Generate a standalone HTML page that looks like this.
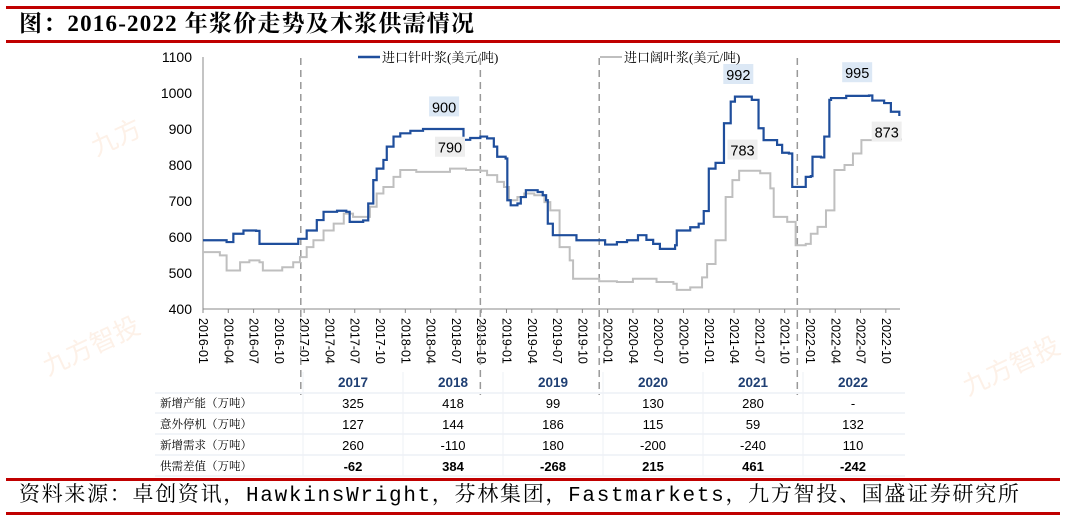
<!DOCTYPE html>
<html><head><meta charset="utf-8"><style>
body{margin:0;width:1065px;height:519px;background:#fff;overflow:hidden;position:relative;font-family:"Liberation Sans","Noto Sans CJK SC",sans-serif}
.rl{position:absolute;left:6px;width:1054px;height:3px;background:#c00000}
.ttl{position:absolute;left:19px;font-family:"Liberation Serif","Noto Serif CJK SC",serif;color:#000;white-space:nowrap}
</style></head><body>
<div class="rl" style="top:6px"></div>
<div class="ttl" style="top:9px;font-size:23px;line-height:30px;letter-spacing:1.2px;font-weight:bold">图：2016-2022 年浆价走势及木浆供需情况</div>
<div class="rl" style="top:40px"></div>
<div class="rl" style="top:478px"></div>
<div class="ttl" style="top:483px;font-size:21px;line-height:28px;letter-spacing:1.7px;font-family:'Liberation Mono','Noto Serif CJK SC',monospace">资料来源：卓创资讯，HawkinsWright，芬林集团，Fastmarkets，九方智投、国盛证券研究所</div>
<div class="rl" style="top:512px"></div>
<svg id="chart" width="1065" height="519" style="position:absolute;left:0;top:0">
<text x="95" y="150" font-size="26" fill="#fdf1e8" transform="rotate(-25 110 150)">九方</text>
<text x="40" y="360" font-size="26" fill="#fdf1e8" transform="rotate(-25 80 350)">九方智投</text>
<text x="960" y="380" font-size="26" fill="#fdf1e8" transform="rotate(-25 1000 370)">九方智投</text>
</svg>
<script>
const yTicks=[400,500,600,700,800,900,1000,1100];
const xLabels=["2016-01","2016-04","2016-07","2016-10","2017-01","2017-04","2017-07","2017-10","2018-01","2018-04","2018-07","2018-10","2019-01","2019-04","2019-07","2019-10","2020-01","2020-04","2020-07","2020-10","2021-01","2021-04","2021-07","2021-10","2022-01","2022-04","2022-07","2022-10"];
const dividers=[11.6,32.9,47,70.5];
const softMonths=[0,2.8,3.6,4.8,6.3,6.7,10.7,11.3,12.3,13.5,14.3,15.9,17.0,17.4,19.0,19.6,20.2,20.6,21.4,21.8,22.6,23.4,24.6,26.1,30.5,30.9,31.7,32.9,33.7,34.5,34.9,35.9,36.1,36.5,37.3,37.7,38.3,39.7,40.3,40.7,40.9,41.5,43.1,44.3,46.7,47.7,49.1,50.3,51.6,52.6,53.4,54.2,56.0,56.2,57.8,58.8,59.4,60.0,60.8,61.8,62.6,63.1,64.1,65.1,65.9,66.5,68.1,68.7,69.5,69.9,70.9,71.5,72.1,72.3,73.3,73.7,74.3,74.5,76.3,79.0,79.4,80.8,81.6,82.6];
const softValues=[591,586,609,618,617,581,581,595,618,647,670,673,670,642,646,693,758,790,814,851,879,888,895,900,900,870,875,879,874,851,823,818,702,688,693,711,730,725,716,702,637,605,605,591,591,579,586,591,605,592,581,567,577,618,627,637,672,790,806,916,976,990,990,981,902,869,856,834,832,739,739,767,769,823,821,879,981,986,992,993,979,972,948,936];
const hardMonths=[0,2.0,2.8,3.6,4.4,5.5,6.7,7.1,8.6,9.4,10.7,11.5,12.3,13.1,14.3,15.5,16.7,17.8,19.2,19.8,20.6,21.4,22.6,23.4,25.3,27.3,29.3,31.2,32.9,33.7,34.9,35.7,36.3,37.3,38.1,39.3,40.5,41.2,42.3,43.5,43.9,47.0,49.1,51.0,53.8,55.8,56.2,57.8,59.2,59.8,60.8,62.0,62.8,63.6,66.1,67.3,67.7,69.3,70.1,70.3,71.5,72.1,72.9,73.9,74.9,76.1,77.1,78.1,80.8,82.8];
const hardValues=[558,549,507,507,530,535,530,507,507,516,530,544,572,591,618,637,665,656,656,684,721,739,767,786,781,781,790,786,784,772,753,739,702,711,721,716,697,674,572,535,484,477,475,484,475,470,453,460,488,525,591,711,758,784,777,735,656,642,642,577,581,609,628,674,786,800,832,869,871,869];
const calloutLabels=["900","790","992","783","995","873"];
const calloutMonths=[28.6,29.3,63.5,64,77.6,81.1];
const calloutValues=[960,848,1050,840,1055,890];
const calloutSeries=[0,1,0,1,0,1];
const tableYears=["2017","2018","2019","2020","2021","2022"];
const tableRows=["新增产能（万吨）","意外停机（万吨）","新增需求（万吨）","供需差值（万吨）"];
const rowCapacity=["325","418","99","130","280","-"];
const rowOutage=["127","144","186","115","59","132"];
const rowDemand=["260","-110","180","-200","-240","110"];
const rowGap=["-62","384","-268","215","461","-242"];

const NS="http://www.w3.org/2000/svg";
const svg=document.getElementById('chart');
const X0=203,XW=8.43,Y0=309,YK=0.36;
const xs=m=>X0+m*XW, ys=v=>Y0-(v-400)*YK;
function mk(t,a,p){const e=document.createElementNS(NS,t);for(const k in a)e.setAttribute(k,a[k]);(p||svg).appendChild(e);return e;}

let ax=mk('line',{x1:X0,y1:ys(1100),x2:X0,y2:Y0,stroke:'#888','stroke-width':1});


let bx=mk('line',{x1:X0,y1:Y0,x2:900,y2:Y0,stroke:'#888','stroke-width':1});


yTicks.forEach(v=>{
  const t=mk('text',{x:192,y:ys(v)+5,'text-anchor':'end','font-size':14,fill:'#000'});
  t.textContent=v;
  
  
});
xLabels.forEach((l,i)=>{
  const x=xs(i*3);
  const tk=mk('line',{x1:x,y1:Y0,x2:x,y2:Y0+4,stroke:'#888'});
  
  
  const t=mk('text',{x:x-4,y:318,'font-size':12.5,fill:'#000',transform:`rotate(90 ${x-4} 318)`});
  t.textContent=l;
  
  
});
dividers.forEach(m=>{
  const d=mk('line',{x1:xs(m),y1:58,x2:xs(m),y2:395,stroke:'#999','stroke-width':1.5,'stroke-dasharray':'7,5'});
  
  
});
function stepPath(ms,vs){let d=`M${xs(ms[0])},${ys(vs[0])}`;for(let i=1;i<ms.length;i++){d+=`H${xs(ms[i])}V${ys(vs[i])}`;}return d;}
const hp=mk('path',{d:stepPath(hardMonths,hardValues),fill:'none',stroke:'#bfbfbf','stroke-width':2});


const sp=mk('path',{d:stepPath(softMonths,softValues),fill:'none',stroke:'#1f4e9c','stroke-width':2.2});


calloutLabels.forEach((l,i)=>{
  const cx=xs(calloutMonths[i]),cy=ys(calloutValues[i]);
  const r=mk('rect',{x:cx-15,y:cy-11,width:30,height:20,fill:calloutSeries[i]?'#eeeeee':'#dce8f5'});
  
  
  const t=mk('text',{x:cx,y:cy+5,'text-anchor':'middle','font-size':14.5,fill:'#000'});
  t.textContent=l;
  
  
});
const lg1=mk('line',{x1:358,y1:57,x2:380,y2:57,stroke:'#1f4e9c','stroke-width':2.5});


const lt1=mk('text',{x:382,y:62,'font-size':13,fill:'#000','font-family':'"Liberation Serif","Noto Serif CJK SC",serif'});
lt1.textContent='进口针叶浆(美元/吨)';


const lg2=mk('line',{x1:600,y1:57,x2:622,y2:57,stroke:'#bfbfbf','stroke-width':2});


const lt2=mk('text',{x:624,y:62,'font-size':13,fill:'#000','font-family':'"Liberation Serif","Noto Serif CJK SC",serif'});
lt2.textContent='进口阔叶浆(美元/吨)';


const colX=i=>353+i*100;
const rowY=[403,424,445,466];
[393,413,434,455,476].forEach(y=>{
  const l=mk('line',{x1:155,y1:y,x2:905,y2:y,stroke:'#e3e8f0','stroke-width':1});
  
  
});
[303,403,503,603,703,803].forEach(x=>{
  const l=mk('line',{x1:x,y1:372,x2:x,y2:476,stroke:'#eef1f6','stroke-width':1});
  
  
});
tableYears.forEach((y,i)=>{
  const t=mk('text',{x:colX(i),y:387,'text-anchor':'middle','font-size':13.5,'font-weight':'bold',fill:'#1f3f73'});
  t.textContent=y;
  
  
});
tableRows.forEach((r,j)=>{
  const t=mk('text',{x:160,y:rowY[j]+4,'font-size':11.5,fill:'#000','font-family':'"Liberation Serif","Noto Serif CJK SC",serif'});
  t.textContent=r;
  
  
});
[rowCapacity,rowOutage,rowDemand,rowGap].forEach((row,j)=>{
  row.forEach((v,i)=>{
    const t=mk('text',{x:colX(i),y:rowY[j]+5,'text-anchor':'middle','font-size':13,fill:'#000','font-weight':j===3?'bold':'normal'});
    t.textContent=v;
    
    
  });
});
</script>
</body></html>
